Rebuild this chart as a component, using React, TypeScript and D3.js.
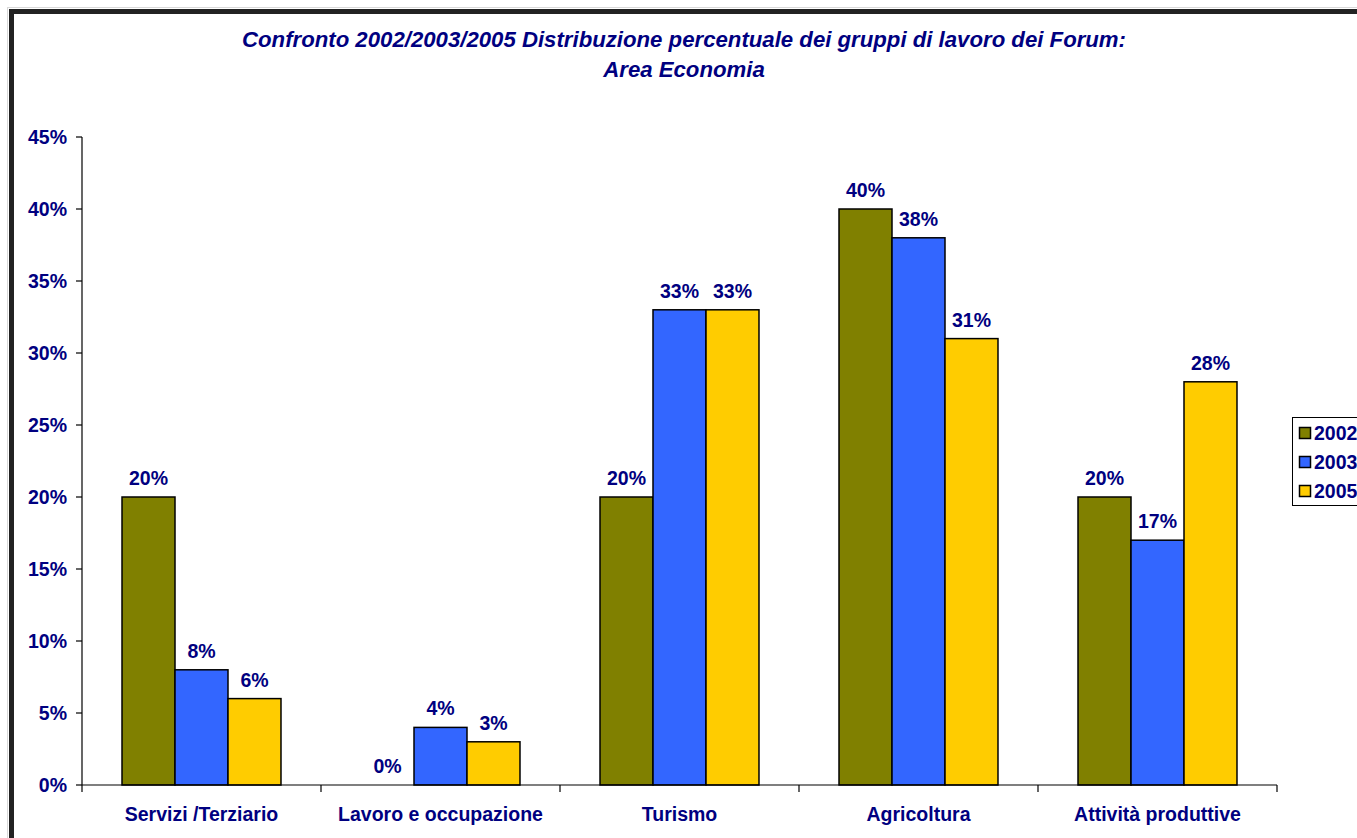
import React, { useEffect, useRef } from "react";
import * as d3 from "d3";

// values
const categories = ["Servizi /Terziario", "Lavoro e occupazione", "Turismo", "Agricoltura", "Attività produttive"];
const years = ["2002", "2003", "2005"];
const values2002 = [0.2, 0, 0.2, 0.4, 0.2];
const values2003 = [0.08, 0.04, 0.33, 0.38, 0.17];
const values2005 = [0.06, 0.03, 0.33, 0.31, 0.28];
const yTicks = [0, 0.05, 0.1, 0.15, 0.2, 0.25, 0.3, 0.35, 0.4, 0.45];
const titleLines = [
  "Confronto 2002/2003/2005 Distribuzione percentuale dei gruppi di lavoro dei Forum:",
  "Area Economia",
];

const seriesValues = [values2002, values2003, values2005];
const colors = ["#808000", "#3366FF", "#FFCC00"];
const navy = "#000080";
const font = "'Liberation Sans', Arial, sans-serif";
const labelSize = 19.5;

const App = () => {
  const svgRef = useRef<SVGSVGElement>(null);

  useEffect(() => {
    document.body.style.margin = "0";
    const width = 1357;
    const height = 838;

    const svg = d3.select(svgRef.current).attr("width", width).attr("height", height);
    svg.selectAll("*").remove();

    svg.append("rect").attr("width", width).attr("height", height).attr("fill", "#fff");

    // chart frame (runs past the bottom/right edge like the reference)
    svg
      .append("rect")
      .attr("x", 7.5)
      .attr("y", 7.5)
      .attr("width", width + 20)
      .attr("height", height + 20)
      .attr("fill", "none")
      .attr("stroke", "#d8d8d8")
      .attr("stroke-width", 1);
    svg
      .append("rect")
      .attr("x", 11.5)
      .attr("y", 11.5)
      .attr("width", width + 20)
      .attr("height", height + 20)
      .attr("fill", "none")
      .attr("stroke", "#222")
      .attr("stroke-width", 5);

    // title
    svg
      .append("g")
      .selectAll("text")
      .data(titleLines)
      .join("text")
      .attr("x", 684)
      .attr("y", (d, i) => 47 + i * 30)
      .attr("text-anchor", "middle")
      .attr("font-family", font)
      .attr("font-size", 22.2)
      .attr("font-weight", "bold")
      .attr("font-style", "italic")
      .attr("fill", navy)
      .text((d) => d);

    // scales
    const x0 = d3.scaleBand().domain(categories).range([82, 1277]).padding(0);
    const x1 = d3.scaleBand().domain(years).range([0, x0.bandwidth()]).paddingInner(0).paddingOuter(0.755);
    const y = d3.scaleLinear().domain([0, 0.45]).range([785, 137]);
    const pct = d3.format(".0%");

    // y axis
    const yAxis = svg.append("g");
    yAxis
      .append("line")
      .attr("x1", 82)
      .attr("x2", 82)
      .attr("y1", y(0.45))
      .attr("y2", y(0))
      .attr("stroke", "#000")
      .attr("stroke-width", 1.2);
    const yt = yAxis.selectAll("g").data(yTicks).join("g");
    yt.append("line")
      .attr("x1", 76)
      .attr("x2", 82)
      .attr("y1", (d) => y(d))
      .attr("y2", (d) => y(d))
      .attr("stroke", "#000")
      .attr("stroke-width", 1.2);
    yt.append("text")
      .attr("x", 67)
      .attr("y", (d) => y(d) + 7)
      .attr("text-anchor", "end")
      .attr("font-family", font)
      .attr("font-size", labelSize)
      .attr("font-weight", "bold")
      .attr("fill", navy)
      .text((d) => pct(d));

    // bars
    const groups = svg
      .append("g")
      .selectAll("g")
      .data(categories)
      .join("g")
      .attr("transform", (d) => `translate(${x0(d)},0)`);

    groups.each(function (cat, ci) {
      const g = d3.select(this);
      years.forEach((yr, si) => {
        const v = seriesValues[si][ci];
        const bx = x1(yr) as number;
        if (v > 0) {
          g.append("rect")
            .attr("x", bx)
            .attr("y", y(v))
            .attr("width", x1.bandwidth())
            .attr("height", y(0) - y(v))
            .attr("fill", colors[si])
            .attr("stroke", "#000")
            .attr("stroke-width", 1.5);
        }
        g.append("text")
          .attr("x", bx + x1.bandwidth() / 2)
          .attr("y", y(v) - 12)
          .attr("text-anchor", "middle")
          .attr("font-family", font)
          .attr("font-size", labelSize)
          .attr("font-weight", "bold")
          .attr("fill", navy)
          .text(pct(v));
      });
    });

    // x axis
    const xAxis = svg.append("g");
    xAxis
      .append("line")
      .attr("x1", 82)
      .attr("x2", 1277)
      .attr("y1", y(0))
      .attr("y2", y(0))
      .attr("stroke", "#000")
      .attr("stroke-width", 1.2);
    xAxis
      .selectAll("line.tick")
      .data([...categories.map((c) => x0(c) as number), 1277])
      .join("line")
      .attr("class", "tick")
      .attr("x1", (d) => d)
      .attr("x2", (d) => d)
      .attr("y1", y(0))
      .attr("y2", y(0) + 7)
      .attr("stroke", "#000")
      .attr("stroke-width", 1.2);
    xAxis
      .selectAll("text")
      .data(categories)
      .join("text")
      .attr("x", (d) => (x0(d) as number) + x0.bandwidth() / 2)
      .attr("y", 821)
      .attr("text-anchor", "middle")
      .attr("font-family", font)
      .attr("font-size", labelSize)
      .attr("font-weight", "bold")
      .attr("fill", navy)
      .text((d) => d);

    // legend
    const legend = svg.append("g").attr("transform", "translate(1292,417)");
    legend
      .append("rect")
      .attr("x", 0.5)
      .attr("y", 0.5)
      .attr("width", 100)
      .attr("height", 88)
      .attr("fill", "#fff")
      .attr("stroke", "#000")
      .attr("stroke-width", 1);
    const items = legend
      .selectAll("g")
      .data(years)
      .join("g")
      .attr("transform", (d, i) => `translate(0,${i * 29})`);
    items
      .append("rect")
      .attr("x", 7.5)
      .attr("y", 10.5)
      .attr("width", 11)
      .attr("height", 11)
      .attr("fill", (d, i) => colors[i])
      .attr("stroke", "#000")
      .attr("stroke-width", 1.5);
    items
      .append("text")
      .attr("x", 22)
      .attr("y", 23)
      .attr("font-family", font)
      .attr("font-size", labelSize)
      .attr("font-weight", "bold")
      .attr("fill", navy)
      .text((d) => d);
  }, []);

  return (
    <div style={{ position: "absolute", left: 0, top: 0 }}>
      <svg ref={svgRef} style={{ display: "block" }} />
    </div>
  );
};

export default App;
